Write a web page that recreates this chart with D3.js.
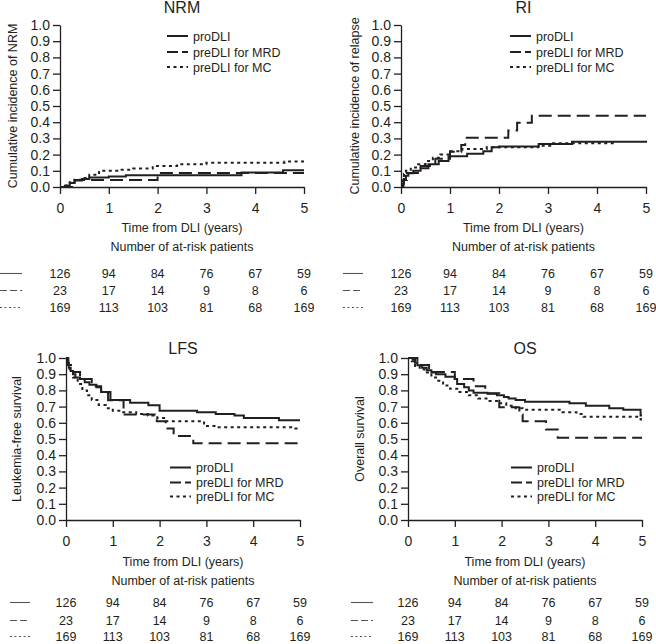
<!DOCTYPE html>
<html><head><meta charset="utf-8">
<script src="https://cdn.jsdelivr.net/npm/d3@7"></script>
<style>
body{margin:0;background:#fff}
svg{display:block}
text{font-family:"Liberation Sans",Arial,sans-serif;fill:#231f20}
</style>
</head><body>
<svg id="chart" width="656" height="644"></svg>
<script>
// ---------- data ----------
const timeTicks = [0, 1, 2, 3, 4, 5];
const probTicks = [0, 0.1, 0.2, 0.3, 0.4, 0.5, 0.6, 0.7, 0.8, 0.9, 1.0];
const seriesNames = ["proDLI", "preDLI for MRD", "preDLI for MC"];
const atRiskPro = [126, 94, 84, 76, 67, 59];
const atRiskMRD = [23, 17, 14, 9, 8, 6];
const atRiskMC  = [169, 113, 103, 81, 68, 169];

// NRM
const nrmProT = [0,0.1,0.2,0.3,0.45,0.6,1.0,1.35,3.72,4.57,5];
const nrmProV = [0,0.008,0.025,0.04,0.05,0.058,0.065,0.073,0.089,0.103,0.103];
const nrmMrdT = [0,0.3,2.0,5];
const nrmMrdV = [0,0.043,0.087,0.087];
const nrmMcT  = [0,0.1,0.2,0.3,0.45,0.6,0.8,1.2,1.5,1.9,2.4,3.0,4.6,5];
const nrmMcV  = [0,0.01,0.03,0.045,0.055,0.075,0.1,0.107,0.114,0.13,0.14,0.15,0.157,0.157];
// RI
const riProT = [0,0.03,0.06,0.1,0.15,0.25,0.4,0.56,0.77,0.97,1.35,1.68,1.85,2.0,2.81,3.49,5];
const riProV = [0,0.02,0.05,0.07,0.085,0.1,0.115,0.14,0.16,0.19,0.205,0.22,0.245,0.25,0.265,0.28,0.285];
const riMrdT = [0,0.05,0.12,0.4,0.7,1.0,1.23,1.31,2.19,2.37,2.67,5];
const riMrdV = [0,0.043,0.087,0.13,0.174,0.217,0.26,0.304,0.348,0.397,0.44,0.44];
const riMcT  = [0,0.03,0.06,0.1,0.2,0.35,0.5,0.65,0.8,1.0,1.25,1.75,2.8,3.1,4.4];
const riMcV  = [0,0.04,0.08,0.1,0.12,0.14,0.16,0.18,0.2,0.22,0.235,0.245,0.255,0.27,0.27];
// LFS
const lfsProT = [0,0.03,0.06,0.1,0.15,0.2,0.3,0.4,0.5,0.65,0.75,0.95,1.37,1.76,2.0,2.8,3.2,3.6,3.8,4.55,5];
const lfsProV = [1,0.97,0.94,0.92,0.9,0.88,0.87,0.85,0.835,0.82,0.79,0.74,0.723,0.709,0.675,0.665,0.655,0.645,0.63,0.615,0.615];
const lfsMrdT = [0,0.05,0.15,0.3,0.55,0.75,0.9,1.23,1.94,2.13,2.3,2.72,5];
const lfsMrdV = [1,0.957,0.913,0.87,0.826,0.783,0.739,0.652,0.609,0.565,0.518,0.473,0.473];
const lfsMcT  = [0,0.03,0.08,0.15,0.25,0.35,0.45,0.55,0.7,0.85,1.0,1.2,1.5,1.75,1.95,2.12,2.95,3.2,4.9,5];
const lfsMcV  = [1,0.95,0.92,0.88,0.84,0.8,0.77,0.74,0.71,0.69,0.675,0.665,0.655,0.645,0.63,0.61,0.58,0.572,0.565,0.565];
// OS
const osProT = [0,0.1,0.15,0.2,0.3,0.4,0.5,0.6,0.8,1.0,1.05,1.2,1.3,1.4,1.7,1.9,2.05,2.15,2.3,2.5,3.45,3.8,4.3,4.6,4.97,5];
const osProV = [1,0.99,0.97,0.955,0.94,0.925,0.91,0.9,0.885,0.87,0.84,0.82,0.8,0.785,0.78,0.77,0.76,0.75,0.74,0.73,0.72,0.705,0.69,0.68,0.645,0.645];
const osMrdT = [0,0.2,0.45,1.0,1.4,1.65,1.95,2.38,2.45,2.95,3.2,5];
const osMrdV = [1,0.957,0.913,0.87,0.826,0.783,0.696,0.652,0.609,0.558,0.507,0.507];
const osMcT  = [0,0.08,0.15,0.25,0.35,0.5,0.6,0.75,0.9,1.1,1.3,1.5,1.7,1.9,2.1,2.3,2.45,3.3,3.6,3.75,4.97,5];
const osMcV  = [1,0.98,0.95,0.93,0.91,0.88,0.86,0.83,0.81,0.79,0.77,0.75,0.735,0.72,0.705,0.69,0.68,0.665,0.655,0.637,0.62,0.62];

// ---------- styles / layout ----------
const lineStyles = [
  {dash: null, width: 2},
  {dash: "13,6", width: 2},
  {dash: "3,3.5", width: 2}
];
const sampleStyles = [null, "7,3", "2,2.5"];

const zip = (t, v) => t.map((d, i) => ({t: d, v: v[i]}));

const panels = [
  {title:"NRM", ylab:"Cumulative incidence of NRM", L:60, R:304, T:25, B:187, titleY:13, ylabX:13,
   legX:167, legY:[36,52,67], sampleX:[0,22], xtitleY:232, numTitleY:251, rowY:[278,295,312],
   series:[zip(nrmProT,nrmProV), zip(nrmMrdT,nrmMrdV), zip(nrmMcT,nrmMcV)]},
  {title:"RI", ylab:"Cumulative incidence of relapse", L:401, R:646, T:25, B:187, titleY:13, ylabX:355,
   legX:510, legY:[36,52,67], sampleX:[343,363], xtitleY:232, numTitleY:251, rowY:[278,295,312],
   series:[zip(riProT,riProV), zip(riMrdT,riMrdV), zip(riMcT,riMcV)]},
  {title:"LFS", ylab:"Leukemia-free survival", L:66, R:300, T:358, B:520, titleY:354, ylabX:17,
   legX:170, legY:[467.5,482.5,496.5], sampleX:[10,30], xtitleY:566, numTitleY:585, rowY:[607,625,641],
   series:[zip(lfsProT,lfsProV), zip(lfsMrdT,lfsMrdV), zip(lfsMcT,lfsMcV)]},
  {title:"OS", ylab:"Overall survival", L:408, R:642, T:358, B:520, titleY:354, ylabX:360,
   legX:511, legY:[467.5,482.5,496.5], sampleX:[351,373], xtitleY:566, numTitleY:585, rowY:[607,625,641],
   series:[zip(osProT,osProV), zip(osMrdT,osMrdV), zip(osMcT,osMcV)]}
];
const atRiskRows = [atRiskPro, atRiskMRD, atRiskMC];

const svg = d3.select("#chart");
const ink = "#231f20";

panels.forEach(p => {
  const g = svg.append("g");
  const x = d3.scaleLinear().domain([0, 5]).range([p.L, p.R]);
  const y = d3.scaleLinear().domain([0, 1]).range([p.B, p.T]);

  // axes
  const xa = g.append("g").attr("transform", `translate(0,${p.B})`)
    .call(d3.axisBottom(x).tickValues(timeTicks).tickFormat(d3.format("d")).tickSize(7).tickSizeOuter(0).tickPadding(9));
  const ya = g.append("g").attr("transform", `translate(${p.L},0)`)
    .call(d3.axisLeft(y).tickValues(probTicks).tickFormat(d3.format(".1f")).tickSize(7).tickSizeOuter(0).tickPadding(3));
  [xa, ya].forEach(a => {
    a.selectAll("path,line").attr("stroke", ink).attr("stroke-width", 1.3);
    a.selectAll("text").attr("font-size", 14).attr("fill", ink)
      .attr("font-family", '"Liberation Sans",Arial,sans-serif');
  });

  // title
  g.append("text").attr("x", (p.L + p.R) / 2).attr("y", p.titleY)
    .attr("text-anchor", "middle").attr("font-size", 16).text(p.title);
  // y label
  g.append("text").attr("transform", `translate(${p.ylabX},${(p.T + p.B) / 2}) rotate(-90)`)
    .attr("text-anchor", "middle").attr("dominant-baseline", "central")
    .attr("font-size", 12.5).text(p.ylab);
  // x title
  g.append("text").attr("x", (p.L + p.R) / 2).attr("y", p.xtitleY)
    .attr("text-anchor", "middle").attr("font-size", 12.5).text("Time from DLI (years)");

  // curves
  const line = d3.line().x(d => x(d.t)).y(d => y(d.v)).curve(d3.curveStepAfter);
  p.series.forEach((s, i) => {
    g.append("path").datum(s).attr("d", line)
      .attr("fill", "none").attr("stroke", ink)
      .attr("stroke-width", lineStyles[i].width)
      .attr("stroke-dasharray", lineStyles[i].dash);
  });

  // legend
  seriesNames.forEach((name, i) => {
    g.append("line").attr("x1", p.legX).attr("x2", p.legX + 21)
      .attr("y1", p.legY[i]).attr("y2", p.legY[i])
      .attr("stroke", ink).attr("stroke-width", 2)
      .attr("stroke-dasharray", i === 1 ? "11,4" : lineStyles[i].dash);
    g.append("text").attr("x", p.legX + 26).attr("y", p.legY[i] + 4.5)
      .attr("font-size", 12.5).text(name);
  });

  // at-risk table
  g.append("text").attr("x", (p.L + p.R) / 2).attr("y", p.numTitleY)
    .attr("text-anchor", "middle").attr("font-size", 12.5).text("Number of at-risk patients");
  atRiskRows.forEach((row, i) => {
    g.append("line").attr("x1", p.sampleX[0]).attr("x2", p.sampleX[1])
      .attr("y1", p.rowY[i] - 4.5).attr("y2", p.rowY[i] - 4.5)
      .attr("stroke", "#555").attr("stroke-width", 1.1)
      .attr("stroke-dasharray", sampleStyles[i]);
    g.selectAll(null).data(row).enter().append("text")
      .attr("x", (d, j) => x(timeTicks[j])).attr("y", p.rowY[i])
      .attr("text-anchor", "middle").attr("font-size", 12.5).text(d => d);
  });
});
</script>
</body></html>
